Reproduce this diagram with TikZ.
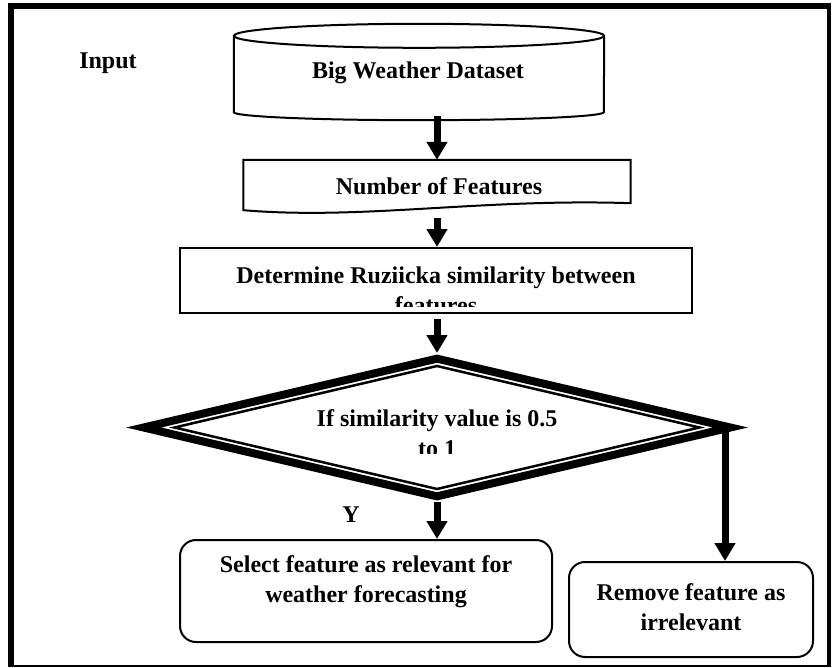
\documentclass[tikz,border=0pt]{standalone}
\usepackage{fontspec}
\setmainfont{Liberation Serif}
\usepackage{tikz}
\usetikzlibrary{shapes.geometric,arrows.meta,calc}

\begin{document}
\begin{tikzpicture}[x=1pt,y=-1pt,
  every node/.style={font=\fontsize{24}{30}\selectfont\bfseries},
  flow/.style={-{Triangle[width=20pt,length=18pt]},line width=7pt},
  thinline/.style={draw,line width=2pt},
  procbox/.style={thinline,rectangle,inner sep=0pt},
  endbox/.style={thinline,rectangle,rounded corners=16pt,inner sep=0pt}]
  \useasboundingbox (0,0) rectangle (834,668);
  % frame
  \draw[line width=2pt] (11,666) -- (831,666);
  \draw[line width=6pt] (11,667) -- (11,6.5) -- (831,6.5);
  \draw[line width=4pt] (829,6.5) -- (829,667);

  \node[anchor=base] (lblIn) at (108,69) {Input};

  % input data (drum)
  \node[rectangle,minimum width=370,minimum height=96,inner sep=0pt] (data) at (419,72) {};
  \coordinate (dataTop) at ([yshift=-12pt]data.north);
  \draw[line width=2pt] (dataTop) ellipse [x radius=185pt,y radius=12pt];
  \draw[line width=2pt] ([yshift=-12pt]data.north west) -- ([yshift=8pt]data.south west)
    arc[start angle=180,end angle=360,x radius=185pt,y radius=8pt] -- ([yshift=-12pt]data.north east);
  \node[anchor=base] (dataTxt) at (418,79) {Big Weather Dataset};

  % document box
  \node[rectangle,minimum width=387,minimum height=52,inner sep=0pt] (feat) at (437,186) {};
  \draw[line width=2pt] (feat.north west) -- (feat.north east) -- ([yshift=9pt]feat.south east)
    .. controls ([xshift=-150pt,yshift=14pt]feat.south east) and ([xshift=120pt,yshift=-8pt]feat.south west)
    .. ([yshift=2pt]feat.south west) -- cycle;
  \node[anchor=base] (featTxt) at (439,195) {Number of Features};

  % similarity box
  \node[procbox,minimum width=512,minimum height=65] (sim) at (436,280.5) {};
  \begin{scope}
    \clip (sim.north west) rectangle ([yshift=8pt]sim.south east);
    \node[align=center] (simTxt) at (436,290) {Determine Ruziicka similarity between\\features};
  \end{scope}

  % decision
  \node[diamond,draw,line width=8pt,inner sep=0pt,minimum width=590,minimum height=141] (cond) at (437,427.5) {};
  \node[diamond,draw,line width=2.5pt,inner sep=0pt,minimum width=526,minimum height=124] (condIn) at (437,427.5) {};
  \begin{scope}
    \clip (150,360) rectangle (720,453);
    \node[align=center] (condTxt) at (437,433) {If similarity value is 0.5\\to 1};
  \end{scope}

  % results
  \node[endbox,minimum width=372,minimum height=102] (sel) at (366,591) {};
  \node[align=center] (selTxt) at (366,582) {Select feature as relevant for\\weather forecasting};
  \node[endbox,minimum width=244,minimum height=95] (rem) at (691,609.5) {};
  \node[align=center] (remTxt) at (691,607) {Remove feature as\\irrelevant};

  \node[anchor=base] (lblY) at (351,522) {Y};
  \coordinate (condR) at ([xshift=-11pt]cond.east);

  % connectors
  \draw[flow] ([yshift=4pt]data.south -| feat.north) -- (feat.north);
  \draw[flow] ([yshift=-6pt]feat.south) -- (feat.south |- sim.north);
  \draw[flow] ([yshift=-5pt]sim.south -| cond.north) -- (cond.north);
  \draw[flow] (cond.south) -- (cond.south |- sel.north);
  \draw[flow] (condR) -- (condR |- rem.north);
\end{tikzpicture}
\end{document}
